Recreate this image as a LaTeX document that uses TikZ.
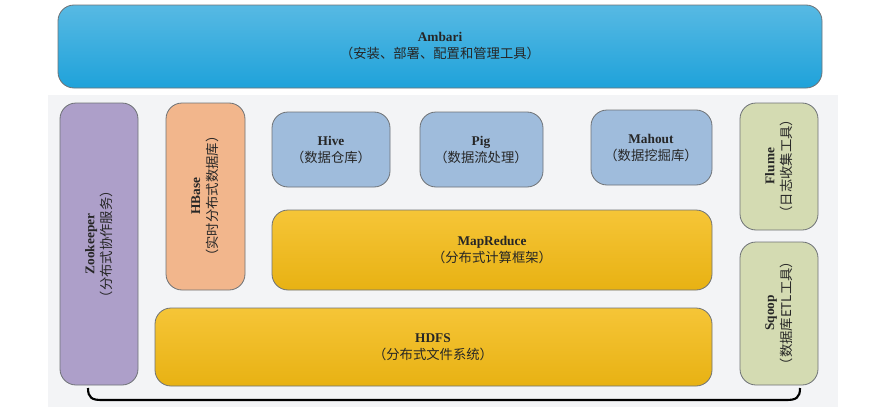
\documentclass[tikz,border=0pt]{standalone}
\usepackage{fontspec}
\setmainfont{Liberation Serif}
\newfontfamily\cjk{Noto Sans CJK SC}
\usetikzlibrary{calc}
\definecolor{panel}{HTML}{F3F4F6}
\definecolor{edge}{HTML}{6E7276}
\definecolor{ambari}{HTML}{1FA2DA}
\definecolor{zoo}{HTML}{AD9FC9}
\definecolor{hbase}{HTML}{F2B68C}
\definecolor{tool}{HTML}{9FBCDC}
\definecolor{core}{HTML}{F4BB14}
\definecolor{ingest}{HTML}{D4DBB2}
\tikzset{
  blk/.style={draw=edge, line width=0.6pt, rounded corners=12pt},
  lbl/.style={align=center, font=\fontsize{10}{13}\selectfont, text=black!85},
  vlbl/.style={lbl, rotate=90}
}
\newcommand{\boxtext}[2]{\textbf{#1}\\{\cjk （#2）}}

\begin{document}
\begin{tikzpicture}[x=0.75pt, y=-0.75pt]
  \useasboundingbox (0,0) rectangle (893,407);
  \fill[white] (0,0) rectangle (893,407);

  % light panel behind the stack
  \fill[panel] (48,95) rectangle (838,407);

  % management layer
  \draw[blk, top color=ambari!75, bottom color=ambari] (58,5) rectangle (822,88);
  \node[lbl] (ambari) at (440,46) {\boxtext{Ambari}{安装、部署、配置和管理工具}};

  % side services
  \draw[blk, fill=zoo] (60,103) rectangle (138,385);
  \node[vlbl] (zoo) at (99,244) {\boxtext{Zookeeper}{分布式协作服务}};
  \draw[blk, fill=hbase] (166,103) rectangle (245,290);
  \node[vlbl] (hbase) at (205,196) {\boxtext{HBase}{实时分布式数据库}};
  \draw[blk, fill=ingest] (740,103) rectangle (818,230);
  \node[vlbl] (flume) at (779,166) {\boxtext{Flume}{日志收集工具}};
  \draw[blk, fill=ingest] (740,242) rectangle (818,385);
  \node[vlbl] (sqoop) at (779,313) {\boxtext{Sqoop}{数据库ETL工具}};

  % tools on top of MapReduce
  \draw[blk, fill=tool] (272,112) rectangle (390,187);
  \node[lbl] (hive) at (331,150) {\boxtext{Hive}{数据仓库}};
  \draw[blk, fill=tool] (420,112) rectangle (543,187);
  \node[lbl] (pig) at (481,150) {\boxtext{Pig}{数据流处理}};
  \draw[blk, fill=tool] (591,110) rectangle (712,185);
  \node[lbl] (mahout) at (651,148) {\boxtext{Mahout}{数据挖掘库}};

  % compute and storage
  \draw[blk, top color=core!85, bottom color=core!95!black] (272,210) rectangle (712,290);
  \node[lbl] (mr) at (492,250) {\boxtext{MapReduce}{分布式计算框架}};
  \draw[blk, top color=core!85, bottom color=core!95!black] (155,308) rectangle (712,386);
  \node[lbl] (hdfs) at (433,347) {\boxtext{HDFS}{分布式文件系统}};

  % brace under everything
  \draw[line width=1.6pt] (88,388) .. controls (88,398) and (92,400) .. (102,400)
    -- (786,400) .. controls (796,400) and (800,398) .. (800,388);
\end{tikzpicture}
\end{document}
